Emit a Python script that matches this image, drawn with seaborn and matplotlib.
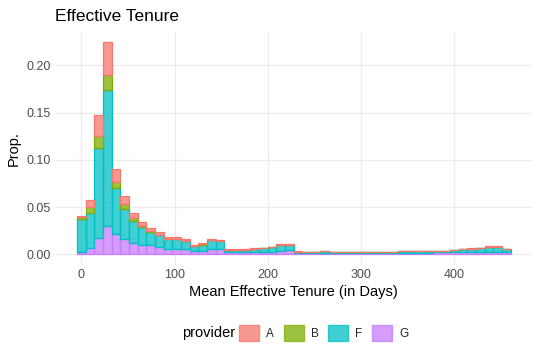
import numpy as np
import pandas as pd
import matplotlib
matplotlib.use("Agg")
import matplotlib.pyplot as plt
from matplotlib.patches import Patch
import seaborn as sns

# ---- data (proportion contributed by each provider, per tenure bin) ----
providers = ["A", "B", "F", "G"]
n_bins = 50
max_tenure = 456.0
bin_width = max_tenure / (n_bins - 1)
bin_centers = np.arange(n_bins) * bin_width

prop_G = [0.0030, 0.0066, 0.0178, 0.0305, 0.0220, 0.0160, 0.0118, 0.0097, 0.0095, 0.0078,
          0.0060, 0.0060, 0.0062, 0.0036, 0.0036, 0.0058, 0.0058, 0.0023, 0.0026, 0.0026,
          0.0026, 0.0026, 0.0028, 0.0040, 0.0048, 0.0016, 0.0016, 0.0016, 0.0016, 0.0016,
          0.0016, 0.0016, 0.0016, 0.0016, 0.0016, 0.0016, 0.0016, 0.0017, 0.0018, 0.0018,
          0.0018, 0.0020, 0.0020, 0.0020, 0.0022, 0.0023, 0.0025, 0.0027, 0.0027, 0.0020]
prop_F = [0.0346, 0.0373, 0.0952, 0.1439, 0.0480, 0.0318, 0.0240, 0.0191, 0.0145, 0.0122,
          0.0100, 0.0100, 0.0078, 0.0054, 0.0068, 0.0095, 0.0081, 0.0022, 0.0022, 0.0019,
          0.0034, 0.0039, 0.0047, 0.0058, 0.0050, 0.0014, 0.0013, 0.0013, 0.0019, 0.0013,
          0.0010, 0.0009, 0.0010, 0.0010, 0.0013, 0.0012, 0.0013, 0.0014, 0.0016, 0.0016,
          0.0016, 0.0020, 0.0020, 0.0024, 0.0033, 0.0039, 0.0045, 0.0055, 0.0055, 0.0040]
prop_B = [0.0024, 0.0061, 0.0124, 0.0156, 0.0070, 0.0060, 0.0032, 0.0017, 0.0010, 0.0005,
          0.0003, 0.0003, 0.0003, 0.0002, 0.0002, 0.0002, 0.0001, 0.0000, 0.0000, 0.0000,
          0.0000, 0.0000, 0.0000, 0.0000, 0.0000, 0.0000, 0.0000, 0.0000, 0.0000, 0.0000,
          0.0000, 0.0000, 0.0000, 0.0000, 0.0000, 0.0000, 0.0000, 0.0000, 0.0000, 0.0000,
          0.0000, 0.0000, 0.0000, 0.0000, 0.0000, 0.0000, 0.0000, 0.0000, 0.0000, 0.0000]
prop_A = [0.0010, 0.0073, 0.0222, 0.0349, 0.0135, 0.0081, 0.0052, 0.0039, 0.0030, 0.0030,
          0.0017, 0.0017, 0.0017, 0.0008, 0.0012, 0.0009, 0.0010, 0.0010, 0.0010, 0.0007,
          0.0007, 0.0007, 0.0008, 0.0012, 0.0012, 0.0002, 0.0001, 0.0001, 0.0001, 0.0001,
          0.0001, 0.0001, 0.0001, 0.0001, 0.0001, 0.0001, 0.0001, 0.0001, 0.0001, 0.0001,
          0.0001, 0.0001, 0.0001, 0.0001, 0.0001, 0.0001, 0.0001, 0.0004, 0.0004, 0.0001]

palette = {"A": "#F8766D", "B": "#7CAE00", "F": "#00BFC4", "G": "#C77CFF"}

rows = []
for p, vals in zip(providers, [prop_A, prop_B, prop_F, prop_G]):
    for c, v in zip(bin_centers, vals):
        rows.append({"tenure": float(c), "prop": float(v), "provider": p})
df = pd.DataFrame(rows)

lo = float(bin_centers[0] - bin_width / 2)
hi = float(bin_centers[-1] + bin_width / 2)

sns.set_theme(style="whitegrid")
plt.rcParams["font.family"] = ["Liberation Sans", "DejaVu Sans"]

fig = plt.figure(figsize=(5.4, 3.6), dpi=100)
ax = fig.add_axes([0.102, 0.264, 0.883, 0.6485])

sns.histplot(data=df, x="tenure", weights="prop", hue="provider",
             hue_order=providers, multiple="stack", binwidth=bin_width, binrange=(lo, hi),
             palette=palette, alpha=0.75, linewidth=0.9, legend=False, ax=ax)

# outline each bar in its own colour
for patch in ax.patches:
    fc = patch.get_facecolor()
    patch.set_edgecolor((fc[0], fc[1], fc[2], 1.0))

ax.set_xlim(-28.2, 483.5)
ax.set_ylim(-0.0112, 0.236)
ax.set_xticks([0, 100, 200, 300, 400])
ax.set_yticks([0.0, 0.05, 0.10, 0.15, 0.20])
ax.set_yticklabels(["0.00", "0.05", "0.10", "0.15", "0.20"])
ax.grid(True, color="#EBEBEB", linewidth=0.9)
ax.set_axisbelow(True)
for s in ax.spines.values():
    s.set_visible(False)
ax.tick_params(axis="both", length=0, labelsize=9, colors="#4D4D4D", pad=3)
ax.set_xlabel("Mean Effective Tenure (in Days)", fontsize=10.5, color="black", labelpad=3)
ax.set_ylabel("Prop.", fontsize=10.5, color="black", labelpad=4)

fig.text(0.102, 0.955, "Effective Tenure", fontsize=12.5, color="black", ha="left", va="center")

handles = [Patch(facecolor=palette[p], edgecolor=palette[p], alpha=0.75, linewidth=1.0) for p in providers]
fig.text(0.338, 0.075, "provider", fontsize=10.5, color="black", ha="left", va="center")
fig.legend(handles, providers, loc="center left", bbox_to_anchor=(0.443, 0.075), ncol=4,
           frameon=False, fontsize=8.5, handlelength=1.7, handleheight=1.7,
           handletextpad=0.6, columnspacing=0.8, borderpad=0, borderaxespad=0)

fig.savefig("out.png", dpi=100)
